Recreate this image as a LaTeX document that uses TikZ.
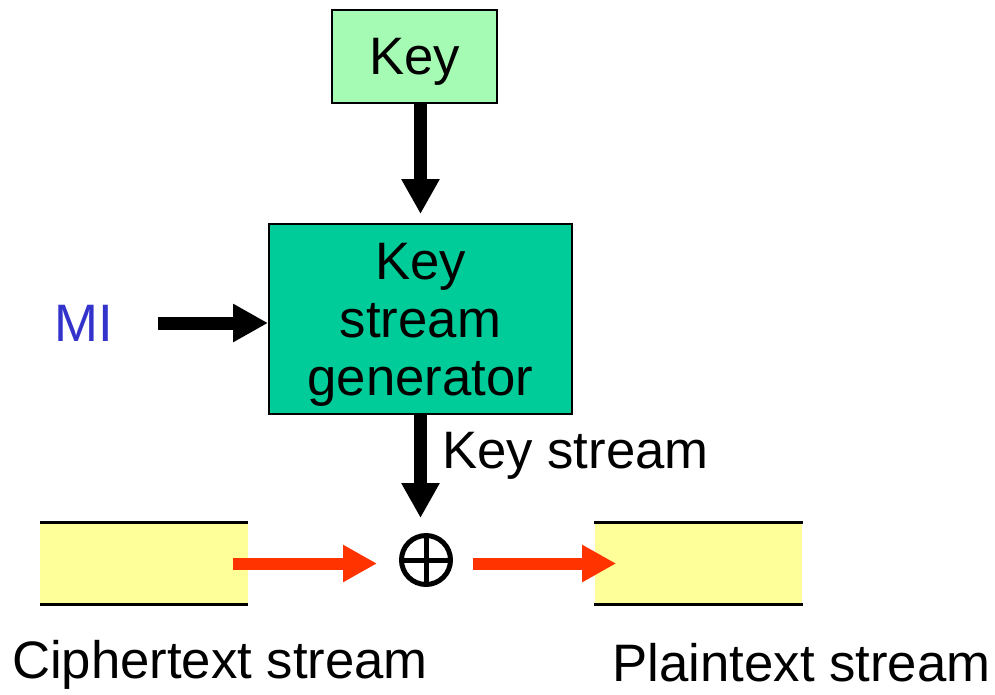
\documentclass[tikz,border=0pt]{standalone}
\usepackage{fontspec}
\setmainfont{Liberation Sans}
\usetikzlibrary{arrows.meta,positioning}
\definecolor{keygreen}{HTML}{A6FBB4}
\definecolor{gengreen}{HTML}{00CC99}
\definecolor{streamyellow}{HTML}{FFFF99}
\definecolor{miblue}{HTML}{3333CC}
\definecolor{flowred}{HTML}{FF3300}

\begin{document}
\begin{tikzpicture}[
    x=0.02cm, y=-0.02cm,
    font=\fontsize{30}{33}\selectfont,
    keybox/.style={rectangle,draw,line width=0.04cm,fill=keygreen,minimum width=3.3cm,minimum height=1.86cm,inner sep=0pt,text depth=0pt},
    genbox/.style={rectangle,draw,line width=0.04cm,fill=gengreen,minimum width=6.06cm,minimum height=3.8cm,inner sep=0pt,align=center,text depth=0pt},
    streambox/.style={rectangle,fill=streamyellow,minimum width=4.16cm,minimum height=1.62cm,inner sep=0pt},
    rim/.style={line width=0.06cm},
    xorsym/.style={circle,draw,line width=0.1cm,minimum size=0.98cm,inner sep=0pt,
      path picture={\draw[line width=0.1cm]
        (path picture bounding box.north) -- (path picture bounding box.south)
        (path picture bounding box.west) -- (path picture bounding box.east);}},
    bigarrow/.style={-{Triangle[length=0.7cm,width=0.72cm]},line width=0.26cm},
    redarrow/.style={-{Triangle[length=0.68cm,width=0.7cm]},line width=0.24cm,draw=flowred},
]
\useasboundingbox (0,0) rectangle (995,694);

% ---- key and generator ----
\node[keybox] (key) at (414.5,56.5) {Key};
\node[genbox] (gen) at (420.5,319) {Key\\stream\\generator};
\node[text=miblue] (mi) at (84,323) {MI};

% ---- combiner and streams ----
\node[xorsym] (xor) at (426,560) {};
\node[streambox] (cipher) at (144,563.5) {};
\node[streambox] (plain) at (698.5,563.5) {};
\draw[rim] (cipher.north west) -- (cipher.north east);
\draw[rim] (cipher.south west) -- (cipher.south east);
\draw[rim] (plain.north west) -- (plain.north east);
\draw[rim] (plain.south west) -- (plain.south east);

\node (ctlabel) at (220,665) {Ciphertext stream};
\node (ptlabel) at (801.5,663) {Plaintext stream};
\node[anchor=west] (kslabel) at (436,456) {Key stream};

% ---- arrows ----
\draw[bigarrow,shorten >=0.18cm] (key.south -| gen.north) -- (gen.north);
\draw[bigarrow,shorten <=0.78cm] (mi.east) -- (gen.west |- mi.east);
\draw[bigarrow,shorten >=0.3cm] (gen.south) -- (gen.south |- xor.north);
\draw[redarrow,shorten <=-0.3cm,shorten >=0.44cm] (cipher.east) -- (xor.west |- cipher.east);
\draw[redarrow,shorten <=0.4cm,shorten >=-0.44cm] (xor.east |- plain.west) -- (plain.west);
\end{tikzpicture}
\end{document}
